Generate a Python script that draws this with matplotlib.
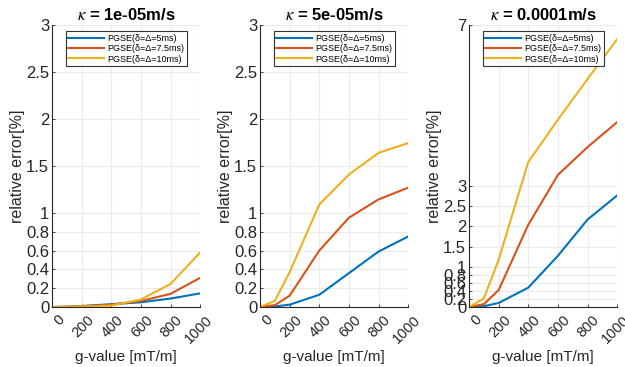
import matplotlib.pyplot as plt
import matplotlib.transforms as mtransforms
import numpy as np

plt.rcParams['font.family'] = ['Liberation Sans', 'DejaVu Sans']
plt.rcParams['mathtext.fontset'] = 'stix'

g = [0, 100, 200, 400, 600, 800, 1000]
kappa_titles = ['1e-05m/s', '5e-05m/s', '0.0001m/s']
labels = ['PGSE(δ=Δ=5ms)', 'PGSE(δ=Δ=7.5ms)', 'PGSE(δ=Δ=10ms)']
colors = ['#0072BD', '#D95319', '#EDB120']

err_k1 = [
    [0, 0.003, 0.01, 0.03, 0.05, 0.09, 0.145],
    [0, 0.002, 0.008, 0.025, 0.064, 0.14, 0.31],
    [0, 0.001, 0.005, 0.015, 0.08, 0.245, 0.58],
]
err_k2 = [
    [0, 0.005, 0.025, 0.13, 0.36, 0.59, 0.75],
    [0, 0.02, 0.12, 0.60, 0.95, 1.145, 1.27],
    [0, 0.065, 0.37, 1.09, 1.41, 1.64, 1.745],
]
err_k3 = [
    [0, 0.02, 0.10, 0.48, 1.27, 2.17, 2.77],
    [0, 0.07, 0.42, 2.04, 3.28, 3.97, 4.59],
    [0, 0.21, 1.17, 3.60, 4.65, 5.66, 6.65],
]
all_err = [err_k1, err_k2, err_k3]
ymax = [3, 3, 7]
yticks = [0, 0.2, 0.4, 0.6, 0.8, 1, 1.5, 2, 2.5, 3]
ytick_labels = ['0', '0.2', '0.4', '0.6', '0.8', '1', '1.5', '2', '2.5', '3']

fig = plt.figure(figsize=(6.25, 3.67), dpi=100)
lefts = [0.0832, 0.416, 0.7504]
axcol = '#262626'
shift = mtransforms.ScaledTranslation(5 / 100, 0, fig.dpi_scale_trans)

for i in range(3):
    ax = fig.add_axes([lefts[i], 0.1635, 0.237, 0.768])
    for j in range(3):
        ax.plot(g, all_err[i][j], color=colors[j], lw=1.5, label=labels[j])
    ax.set_xlim(0, 1000)
    ax.set_ylim(0, ymax[i])
    ax.set_xticks([0, 200, 400, 600, 800, 1000])
    if ymax[i] == 7:
        ax.set_yticks(yticks + [7])
        ax.set_yticklabels(ytick_labels + ['7'])
    else:
        ax.set_yticks(yticks)
        ax.set_yticklabels(ytick_labels)
    ax.grid(True, color='#ebebeb', lw=0.8)
    ax.set_axisbelow(True)
    for s in ['top', 'right']:
        ax.spines[s].set_visible(False)
    for s in ['left', 'bottom']:
        ax.spines[s].set_color(axcol)
        ax.spines[s].set_linewidth(0.8)
    ax.tick_params(axis='both', colors=axcol, labelsize=12, direction='in',
                   length=2.5, width=0.6, pad=2)
    ax.tick_params(axis='x', labelsize=10.5, pad=4)
    ax.set_xticklabels(['0', '200', '400', '600', '800', '1000'],
                       rotation=45, ha='right', va='top', rotation_mode='anchor')
    for lab in ax.get_xticklabels():
        lab.set_transform(lab.get_transform() + shift)
    ax.set_xlabel('g-value [mT/m]', fontsize=11, color=axcol, labelpad=3)
    ax.set_ylabel('relative error[%]', fontsize=11.5, color=axcol, labelpad=1)
    ax.set_title(r'$\kappa$ = ' + kappa_titles[i], fontsize=12,
                 fontweight='bold', pad=4)
    leg = ax.legend(loc='upper left', bbox_to_anchor=(0.08, 0.985),
                    fontsize=6.5, handlelength=4.0, handletextpad=0.3,
                    borderpad=0.3, labelspacing=0.15, fancybox=False,
                    framealpha=1, borderaxespad=0.2)
    leg.get_frame().set_edgecolor('#333333')
    leg.get_frame().set_linewidth(0.8)

fig.savefig('out.png', dpi=100)
